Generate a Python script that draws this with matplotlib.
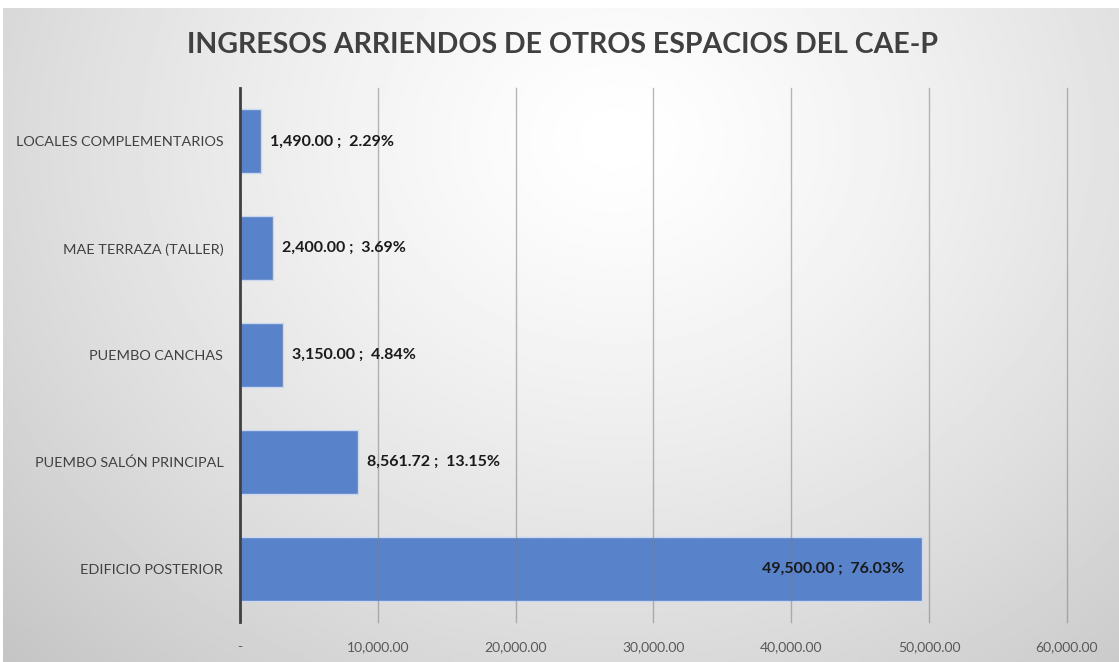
import matplotlib.pyplot as plt
import numpy as np

categorias = ['EDIFICIO POSTERIOR', 'PUEMBO SALÓN PRINCIPAL', 'PUEMBO CANCHAS',
              'MAE TERRAZA (TALLER)', 'LOCALES COMPLEMENTARIOS']
valores = [49500.00, 8561.72, 3150.00, 2400.00, 1490.00]
ticks_x = [0, 10000, 20000, 30000, 40000, 50000, 60000]
etiquetas_x = ['-', '10,000.00', '20,000.00', '30,000.00', '40,000.00', '50,000.00', '60,000.00']

total = sum(valores)
porcentajes = [v / total * 100 for v in valores]

plt.rcParams['font.family'] = ['Lato', 'DejaVu Sans']

fig = plt.figure(figsize=(11.19, 6.62), dpi=100)
fig.patch.set_facecolor('white')

# fondo degradado
bg = fig.add_axes([0.003, 0, 0.997, 0.988])
yy, xx = np.mgrid[0:1:300j, 0:1:500j]
d = np.sqrt(((xx - 0.55) / 0.75) ** 2 + ((yy - 0.2) / 1.1) ** 2)
g = np.clip(1.0 - 0.22 * d ** 1.3, 0.76, 1.0)
bg.imshow(g, cmap='gray', vmin=0, vmax=1, aspect='auto', extent=[0, 1, 1, 0])
bg.set_axis_off()
bg.set_zorder(0)

ax = fig.add_axes([0.2145, 0.0604, 0.739, 0.8066])
ax.set_zorder(1)
ax.patch.set_alpha(0)

y = np.arange(len(categorias))
ax.barh(y, valores, height=0.6, color='#5882CA', edgecolor='#C9D8EF', linewidth=1, zorder=2)

ax.set_xlim(0, 60000)
ax.set_ylim(-0.5, len(categorias) - 0.5)
ax.set_xticks(ticks_x)
ax.set_xticklabels(etiquetas_x, fontsize=10, color='#595959')
ax.set_yticks(y)
ax.set_yticklabels(categorias, fontsize=10.4, color='#404040')
ax.tick_params(axis='x', length=0, pad=14)
ax.tick_params(axis='y', length=0, pad=12)

for xv in ticks_x[1:]:
    ax.axvline(xv, color='#7f7f7f', alpha=0.55, linewidth=1, zorder=3, clip_on=False)

for s in ['top', 'right', 'bottom']:
    ax.spines[s].set_visible(False)
ax.spines['left'].set_color('#404040')
ax.spines['left'].set_linewidth(2)
ax.spines['left'].set_zorder(4)

for i, (v, p) in enumerate(zip(valores, porcentajes)):
    txt = f'{v:,.2f} ;  {p:.2f}%'
    if v > 30000:
        ax.text(v - 1300, i, txt, ha='right', va='center', fontsize=11.5,
                fontweight='bold', color='#1a1a1a', zorder=5)
    else:
        ax.text(v + 650, i, txt, ha='left', va='center', fontsize=11.5,
                fontweight='bold', color='#1a1a1a', zorder=5)

fig.text(0.503, 0.932, 'INGRESOS ARRIENDOS DE OTROS ESPACIOS DEL CAE-P',
         ha='center', va='center', fontsize=20.5, fontweight='bold', color='#404040')

fig.savefig('out.png', dpi=100)
